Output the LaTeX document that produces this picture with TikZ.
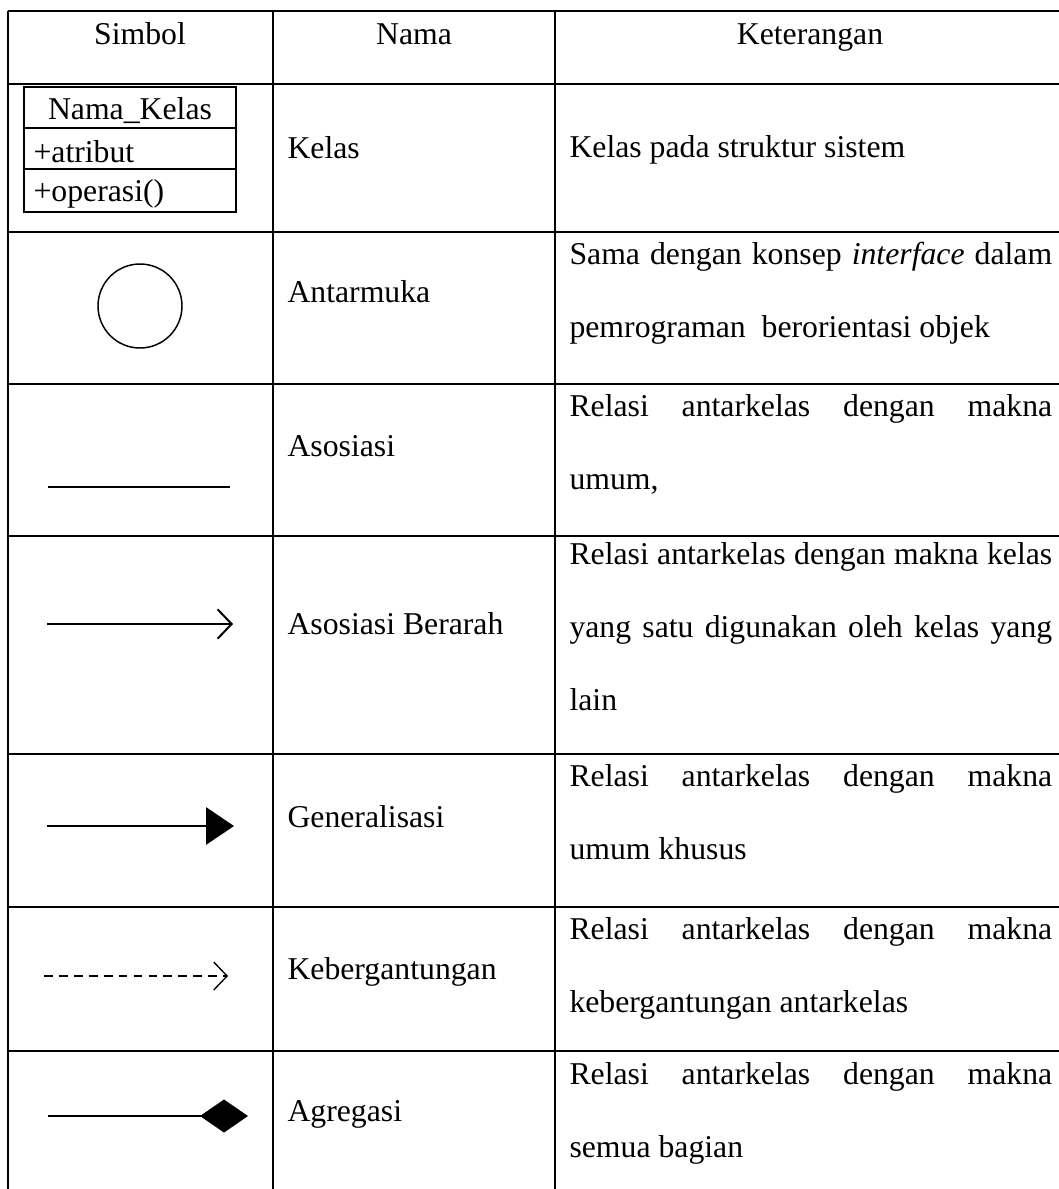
\documentclass[tikz,border=0pt]{standalone}
\usepackage{fontspec}
\setmainfont{Liberation Serif}
\usetikzlibrary{arrows.meta}

\tikzset{
  garis/.style={line width=0.75pt},
  simbol/.style={line width=0.75pt},
  teks/.style={anchor=base west, inner sep=0pt, font=\fontsize{11.9}{27.4}\selectfont},
  judul/.style={anchor=base, inner sep=0pt, font=\fontsize{11.9}{27.4}\selectfont},
  ket/.style={anchor=north west, inner sep=0pt, text width=181pt, align=justify,
    font=\fontsize{11.9}{27.4}\selectfont},
}

\begin{document}
\begin{tikzpicture}[x=0.375pt, y=-0.375pt]
    \useasboundingbox (0,0) rectangle (1059,1189);

    \foreach \y in {11, 84, 232, 384, 536, 754, 907, 1051}
        \draw[garis] (8,\y) -- (1059,\y);
    \foreach \x in {8, 273, 555}
        \draw[garis] (\x,11) -- (\x,1189);

    \node[judul] (hSimbol) at (140,44) {Simbol};
    \node[judul] (hNama) at (414,44) {Nama};
    \node[judul] (hKet) at (810,44) {Keterangan};

    \draw[garis] (24,87) rectangle (236,212);
    \draw[garis] (24,128) -- (236,128);
    \draw[garis] (24,169) -- (236,169);
    \node[judul] (namaKelas) at (130,119) {Nama\_Kelas};
    \node[teks] (atribut) at (33,162) {+atribut};
    \node[teks] (operasi) at (33,201) {+operasi()};

    \node[draw, circle, line width=0.55pt, minimum size=31.5pt, inner sep=0pt] (antarmuka) at (140,306) {};

    \coordinate (asoA) at (48,487);
    \coordinate (asoB) at (230,487);
    \coordinate (arahA) at (47,624);
    \coordinate (arahB) at (233,624);
    \coordinate (genA) at (47,826);
    \coordinate (genB) at (234,826);
    \coordinate (kebA) at (44,976);
    \coordinate (kebB) at (228,976);
    \coordinate (agrA) at (48,1116);
    \coordinate (agrB) at (248,1116);

    \draw[line width=0.95pt] (asoA) -- (asoB);
    \draw[simbol, -{Straight Barb[length=5.25pt, width=11pt]}] (arahA) -- (arahB);
    \draw[simbol, -{Triangle[length=10.5pt, width=14pt]}] (genA) -- (genB);
    \draw[line width=0.5pt, dash pattern=on 3.3pt off 2.3pt,
        -{Straight Barb[length=5pt, width=10.5pt]}] (kebA) -- (kebB);
    \draw[simbol, -{Diamond[length=18pt, width=12.4pt]}] (agrA) -- (agrB);

    \node[teks] (nKelas) at (287,158) {Kelas};
    \node[teks] (nAntarmuka) at (287,302) {Antarmuka};
    \node[teks] (nAsosiasi) at (287,456) {Asosiasi};
    \node[teks] (nArah) at (287,634) {Asosiasi Berarah};
    \node[teks] (nGen) at (287,827) {Generalisasi};
    \node[teks] (nKeb) at (287,979) {Kebergantungan};
    \node[teks] (nAgr) at (287,1121) {Agregasi};

    \node[teks] (kKelas) at (569,157) {Kelas pada struktur sistem};
    \node[ket] (kAntarmuka) at (569,242) {Sama dengan konsep \textit{interface} dalam\linebreak pemrograman\ \ berorientasi objek};
    \node[ket] (kAsosiasi) at (569,394) {Relasi antarkelas dengan makna\linebreak umum,};
    \node[ket] (kArah) at (569,542) {Relasi antarkelas dengan makna kelas\linebreak yang satu digunakan oleh kelas yang\linebreak lain};
    \node[ket] (kGen) at (569,764) {Relasi antarkelas dengan makna\linebreak umum khusus};
    \node[ket] (kKeb) at (569,917) {Relasi antarkelas dengan makna\linebreak kebergantungan antarkelas};
    \node[ket] (kAgr) at (569,1062) {Relasi antarkelas dengan makna\linebreak semua bagian};
\end{tikzpicture}
\end{document}
